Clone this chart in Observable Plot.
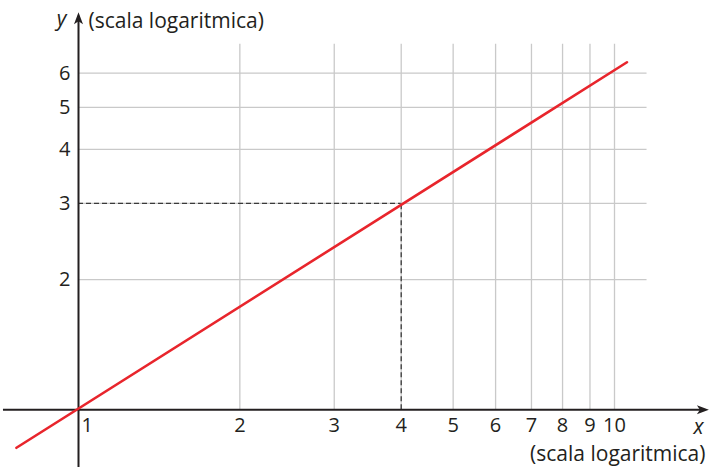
<!DOCTYPE html>
<html>
<head>
<meta charset="utf-8">
<script src="https://cdn.jsdelivr.net/npm/d3@7"></script>
<script src="https://cdn.jsdelivr.net/npm/@observablehq/plot@0.6"></script>
<style>
  html, body { margin: 0; padding: 0; background: #fff; }
  #chart svg { display: block; }
</style>
</head>
<body>
<div id="chart"></div>
<script>
// Data
const xTicks = [1, 2, 3, 4, 5, 6, 7, 8, 9, 10];
const yTicks = [2, 3, 4, 5, 6];
const xGrid = [2, 3, 4, 5, 6, 7, 8, 9, 10];
const yGrid = [2, 3, 4, 5, 6];
const gridTop = 7;        // vertical grid lines end (y value)
const gridRight = 11.5;   // horizontal grid lines end (x value)
const lineX = [0.766, 10.55];
const lineY = [0.817, 6.36];
const pointX = [4];
const pointY = [3];
const xAxisExtent = [0.737, 15.0];
const yAxisExtent = [0.736, 8.3];
const axisTitle = "(scala logaritmica)";

const linePts = lineX.map((x, i) => ({x, y: lineY[i]}));

const arrowSymbol = {
  draw(context) {
    context.moveTo(0, 0);
    context.lineTo(4.5, 12);
    context.lineTo(0, 9);
    context.lineTo(-4.5, 12);
    context.closePath();
  }
};

const ink = "#231f20";
const gridColor = "#c9c9c9";
const fs = 20;
const fsTitle = 21;
const font = "'Open Sans', sans-serif";

const chart = Plot.plot({
  width: 709,
  height: 467,
  margin: 0,
  style: {fontFamily: font, color: ink, background: "#fff"},
  x: {type: "log", domain: [1, 10], range: [78, 614], axis: null},
  y: {type: "log", domain: [1, 6], range: [409.3, 72.7], axis: null},
  marks: [
    Plot.ruleX(xGrid, {x: d => d, y1: 1, y2: gridTop, stroke: gridColor, strokeWidth: 1.3}),
    Plot.ruleY(yGrid, {y: d => d, x1: 1, x2: gridRight, stroke: gridColor, strokeWidth: 1.3}),
    Plot.ruleY(pointY, {y: d => d, x1: 1, x2: pointX[0], stroke: "#3a3a3a", strokeWidth: 1.3, strokeDasharray: "5,3"}),
    Plot.ruleX(pointX, {x: d => d, y1: 1, y2: pointY[0], stroke: "#3a3a3a", strokeWidth: 1.3, strokeDasharray: "5,3"}),
    // axes
    Plot.ruleY([1], {x1: xAxisExtent[0], x2: xAxisExtent[1], stroke: ink, strokeWidth: 2, dx: -4}),
    Plot.ruleX([1], {y1: yAxisExtent[0], y2: yAxisExtent[1], stroke: ink, strokeWidth: 2, dy: 4}),
    Plot.dot([xAxisExtent[1]], {x: d => d, y: 1, symbol: arrowSymbol, rotate: 90, fill: ink, stroke: "none"}),
    Plot.dot([yAxisExtent[1]], {x: 1, y: d => d, symbol: arrowSymbol, rotate: 0, fill: ink, stroke: "none"}),
    // red line
    Plot.line(linePts, {x: "x", y: "y", stroke: "#e8252c", strokeWidth: 2.6}),
    // tick labels
    Plot.text(xTicks.slice(0, 1), {x: d => d, y: 1, text: d => String(d), dy: 16, dx: 3, textAnchor: "start", fill: ink, fontSize: fs}),
    Plot.text(xTicks.slice(1), {x: d => d, y: 1, text: d => String(d), dy: 16, textAnchor: "middle", fill: ink, fontSize: fs}),
    Plot.text(yTicks, {x: 1, y: d => d, text: d => String(d), dx: -8, textAnchor: "end", fill: ink, fontSize: fs}),
    // axis titles
    Plot.text(["y"], {frameAnchor: "top-left", dx: 61, dy: 19, lineAnchor: "middle", text: d => d, fontStyle: "italic", textAnchor: "middle", fill: ink, fontSize: fsTitle}),
    Plot.text([axisTitle], {frameAnchor: "top-left", dx: 88, dy: 21, lineAnchor: "middle", text: d => d, textAnchor: "start", fill: ink, fontSize: fsTitle}),
    Plot.text(["x"], {frameAnchor: "top-left", dx: 698, dy: 427, lineAnchor: "middle", text: d => d, fontStyle: "italic", textAnchor: "middle", fill: ink, fontSize: fsTitle}),
    Plot.text([axisTitle], {frameAnchor: "top-left", dx: 705, dy: 454, lineAnchor: "middle", text: d => d, textAnchor: "end", fill: ink, fontSize: fsTitle})
  ]
});

document.getElementById("chart").appendChild(chart);
</script>
</body>
</html>
